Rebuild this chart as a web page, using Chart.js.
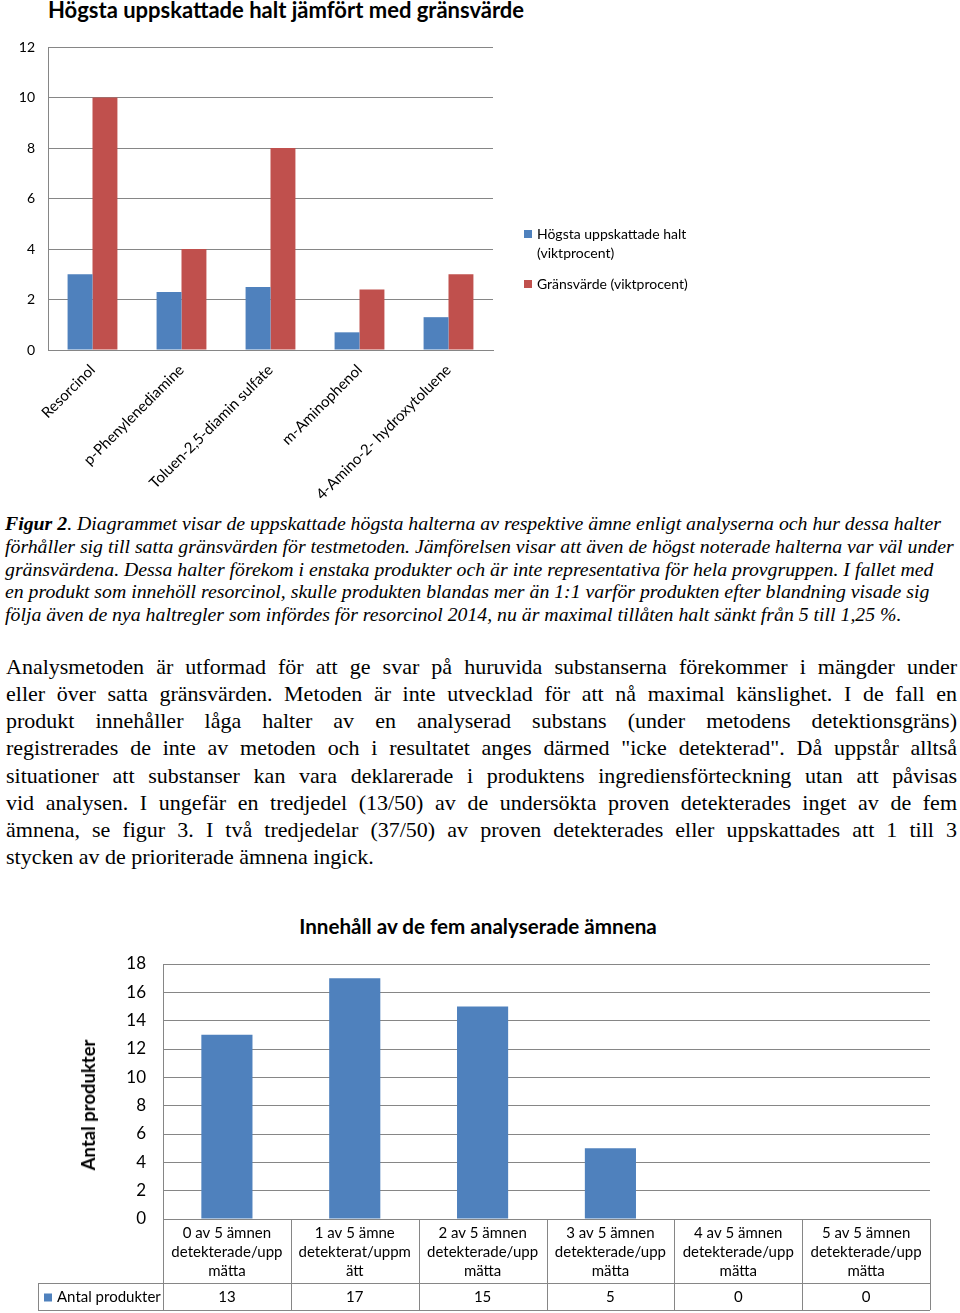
<!DOCTYPE html>
<html>
<head>
<meta charset="utf-8">
<script src="https://cdn.jsdelivr.net/npm/chart.js@4.4.0/dist/chart.umd.min.js"></script>
<style>
  body { margin: 0; width: 960px; height: 1313px; position: relative; background: #fff; overflow: hidden; }
  .abs { position: absolute; }
  .title1 { left: 48px; top: -4px; font: bold 22px Lato, sans-serif; color: #000; }
  .title2 { left: 0; width: 956px; top: 914px; text-align: center; font: bold 20.6px Lato, sans-serif; color: #000; }
  .ytitle2 { left: 88px; top: 1105px; transform: translate(-50%, -50%) rotate(-90deg); font: bold 18.5px Lato, sans-serif; color: #000; white-space: nowrap; }
  .legend1 { left: 524px; top: 224px; font: 14px Lato, sans-serif; color: #000; line-height: 19px; }
  .legend1 .item { position: relative; padding-left: 13px; margin-bottom: 12px; }
  .legend1 .sw { position: absolute; left: 0; top: 6px; width: 8px; height: 8px; }
  .caption { left: 5px; top: 512px; font: italic 19.8px "Liberation Serif", serif; line-height: 22.75px; white-space: nowrap; color: #000; }
  .para { left: 6px; top: 653px; width: 951px; font: 22px "Liberation Serif", serif; line-height: 27.15px; color: #000; }
  .para div { text-align: justify; text-align-last: justify; white-space: nowrap; }
  .para div.last { text-align-last: left; }
</style>
</head>
<body>
<div class="abs title1">Högsta uppskattade halt jämfört med gränsvärde</div>
<canvas id="chart1" class="abs" style="left:0;top:0" width="960" height="500"></canvas>
<div class="abs legend1">
  <div class="item"><span class="sw" style="background:#4F81BD"></span>Högsta uppskattade halt<br>(viktprocent)</div>
  <div class="item"><span class="sw" style="background:#C0504D"></span>Gränsvärde (viktprocent)</div>
</div>

<div class="abs caption">
  <div><b>Figur 2</b>. Diagrammet visar de uppskattade högsta halterna av respektive ämne enligt analyserna och hur dessa halter</div>
  <div>förhåller sig till satta gränsvärden för testmetoden. Jämförelsen visar att även de högst noterade halterna var väl under</div>
  <div>gränsvärdena. Dessa halter förekom i enstaka produkter och är inte representativa för hela provgruppen. I fallet med</div>
  <div>en produkt som innehöll resorcinol, skulle produkten blandas mer än 1:1 varför produkten efter blandning visade sig</div>
  <div>följa även de nya haltregler som infördes för resorcinol 2014, nu är maximal tillåten halt sänkt från 5 till 1,25 %.</div>
</div>

<div class="abs para">
  <div>Analysmetoden är utformad för att ge svar på huruvida substanserna förekommer i mängder under</div>
  <div>eller över satta gränsvärden. Metoden är inte utvecklad för att nå maximal känslighet. I de fall en</div>
  <div>produkt innehåller låga halter av en analyserad substans (under metodens detektionsgräns)</div>
  <div>registrerades de inte av metoden och i resultatet anges därmed "icke detekterad". Då uppstår alltså</div>
  <div>situationer att substanser kan vara deklarerade i produktens ingrediensförteckning utan att påvisas</div>
  <div>vid analysen. I ungefär en tredjedel (13/50) av de undersökta proven detekterades inget av de fem</div>
  <div>ämnena, se figur 3. I två tredjedelar (37/50) av proven detekterades eller uppskattades att 1 till 3</div>
  <div class="last">stycken av de prioriterade ämnena ingick.</div>
</div>

<div class="abs title2">Innehåll av de fem analyserade ämnena</div>
<canvas id="chart2" class="abs" style="left:0;top:895px" width="960" height="418"></canvas>
<div class="abs ytitle2">Antal produkter</div>

<script>
// figur 2
const substances = ['Resorcinol', 'p-Phenylenediamine', 'Toluen-2,5-diamin sulfate', 'm-Aminophenol', '4-Amino-2- hydroxytoluene'];
const highestValues = [3, 2.3, 2.5, 0.7, 1.3];
const limitValues = [10, 4, 8, 2.4, 3];

// figur 3
const groupLabels = [
    ['0 av 5 ämnen', 'detekterade/upp', 'mätta'],
    ['1 av 5 ämne', 'detekterat/uppm', 'ätt'],
    ['2 av 5 ämnen', 'detekterade/upp', 'mätta'],
    ['3 av 5 ämnen', 'detekterade/upp', 'mätta'],
    ['4 av 5 ämnen', 'detekterade/upp', 'mätta'],
    ['5 av 5 ämnen', 'detekterade/upp', 'mätta']
];
const productCounts = [13, 17, 15, 5, 0, 0];
const seriesName = 'Antal produkter';

const BLUE = '#4F81BD';
const RED = '#C0504D';
const GRID = '#868686';
const FONT = 'Lato, sans-serif';

Chart.defaults.animation = false;
Chart.defaults.color = '#000';
Chart.defaults.font.family = FONT;

new Chart(document.getElementById('chart1'), {
    type: 'bar',
    data: {
        labels: substances,
        datasets: [
            { label: 'Högsta uppskattade halt (viktprocent)', data: highestValues, backgroundColor: BLUE },
            { label: 'Gränsvärde (viktprocent)', data: limitValues, backgroundColor: RED }
        ]
    },
    options: {
        responsive: false,
        categoryPercentage: 0.56,
        barPercentage: 1,
        layout: { padding: { top: 47, right: 467, left: 0, bottom: 0 } },
        plugins: { legend: { display: false }, tooltip: { enabled: false } },
        scales: {
            y: {
                min: 0,
                max: 12,
                ticks: { stepSize: 2, padding: 13, font: { size: 14 } },
                grid: { color: GRID, drawTicks: false },
                border: { color: GRID },
                afterFit: (s) => { s.width = 48; }
            },
            x: {
                grid: { display: false },
                border: { color: GRID },
                ticks: { autoSkip: false, maxRotation: 45, minRotation: 45, padding: 3, font: { size: 15 } },
                afterFit: (s) => { s.height = 150; }
            }
        }
    }
});

// tabell under diagrammet
const dataTable = {
    id: 'dataTable',
    afterDraw(chart) {
        const { ctx, chartArea } = chart;
        const x = chart.scales.x;
        const half = (x.getPixelForValue(1) - x.getPixelForValue(0)) / 2;
        const top = chartArea.bottom;
        const mid = top + 64;
        const bot = mid + 27;
        const tableLeft = 38;

        ctx.save();
        ctx.strokeStyle = GRID;
        ctx.lineWidth = 1;
        ctx.beginPath();
        ctx.moveTo(tableLeft, mid + 0.5); ctx.lineTo(chartArea.right, mid + 0.5);
        ctx.moveTo(tableLeft, bot + 0.5); ctx.lineTo(chartArea.right, bot + 0.5);
        ctx.moveTo(tableLeft + 0.5, mid); ctx.lineTo(tableLeft + 0.5, bot);
        for (let i = 0; i <= groupLabels.length; i++) {
            const px = Math.round(x.getPixelForValue(i) - half) + 0.5;
            ctx.moveTo(px, top); ctx.lineTo(px, bot);
        }
        ctx.stroke();

        const cy = (mid + bot) / 2 + 1;
        ctx.fillStyle = '#000';
        ctx.font = '15px ' + FONT;
        ctx.textAlign = 'center';
        ctx.textBaseline = 'middle';
        productCounts.forEach((v, i) => ctx.fillText(String(v), x.getPixelForValue(i), cy));

        ctx.fillStyle = BLUE;
        ctx.fillRect(tableLeft + 6, cy - 4, 8, 8);
        ctx.fillStyle = '#000';
        ctx.textAlign = 'left';
        ctx.fillText(seriesName, tableLeft + 19, cy);
        ctx.restore();
    }
};

new Chart(document.getElementById('chart2'), {
    type: 'bar',
    data: {
        labels: groupLabels,
        datasets: [{ label: seriesName, data: productCounts, backgroundColor: BLUE }]
    },
    plugins: [dataTable],
    options: {
        responsive: false,
        categoryPercentage: 0.4,
        barPercentage: 1,
        layout: { padding: { top: 69, right: 30, left: 0, bottom: 0 } },
        plugins: { legend: { display: false }, tooltip: { enabled: false } },
        scales: {
            y: {
                min: 0,
                max: 18,
                ticks: { stepSize: 2, padding: 17, font: { size: 17 } },
                grid: { color: GRID, drawTicks: false },
                border: { color: GRID },
                afterFit: (s) => { s.width = 163; }
            },
            x: {
                grid: { display: false },
                border: { color: GRID },
                ticks: { autoSkip: false, maxRotation: 0, padding: -3, font: { size: 15, lineHeight: 1.27 } },
                afterFit: (s) => { s.height = 94; }
            }
        }
    }
});
</script>
</body>
</html>
